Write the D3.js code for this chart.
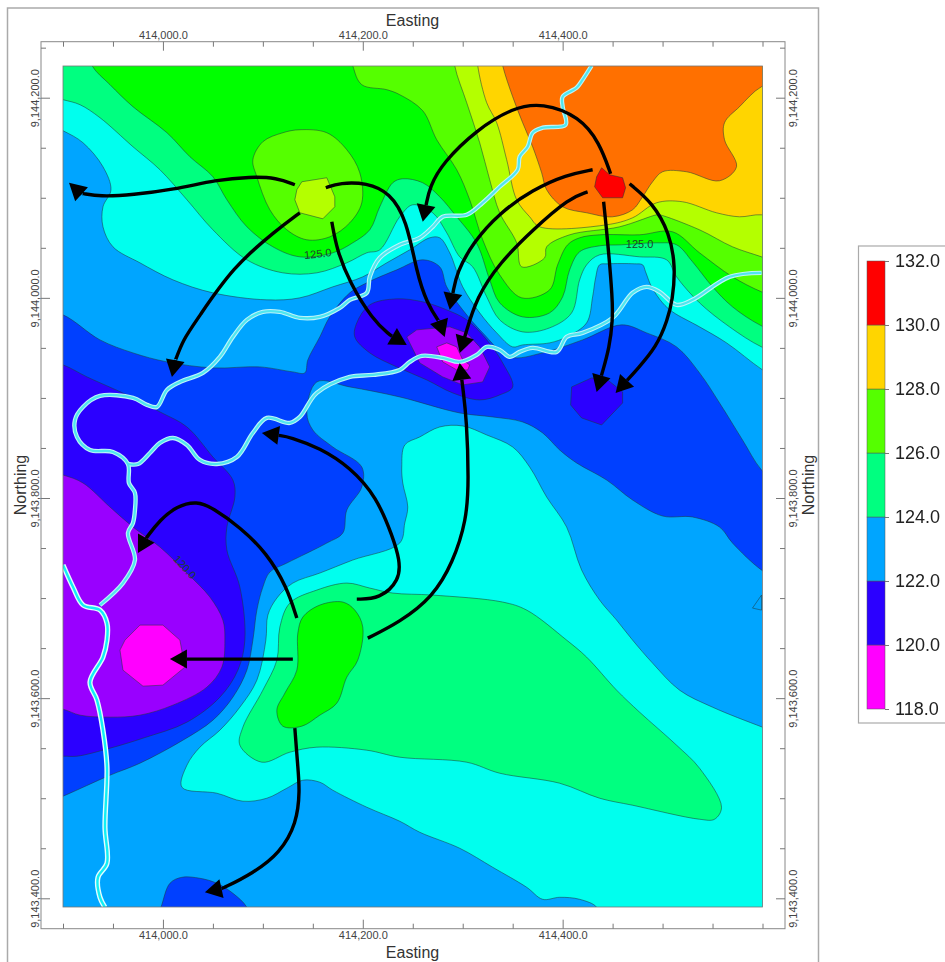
<!DOCTYPE html>
<html>
<head>
<meta charset="utf-8">
<script src="https://cdn.jsdelivr.net/npm/d3@7"></script>
<style>
  html, body { margin: 0; padding: 0; background: #fff; overflow: hidden; }
  svg { display: block; filter: blur(0.45px); }
  text { font-family: "Liberation Sans", Arial, sans-serif; }
</style>
</head>
<body>
<div id="chart"></div>
<script>
// Grid origin, all outlines below are metres east / north of it
const originE = 413900;
const originN = 9143400;

// Elevation bands, one colour per contour interval
const colMagenta = "#ff00ff", colViolet = "#9900ff", colIndigo = "#2b00ff", colBlue = "#0040ff",
      colAzure = "#00a5ff", colCyan = "#00ffee", colSpring = "#00ff80", colGreen = "#00ff00",
      colLime = "#55ff00", colYellowGreen = "#b4ff00", colYellow = "#ffd500", colOrange = "#ff7000",
      colRed = "#ff0000";

// Band outlines
const cyanUpper = [[-30,870],[730,870],[730,510],[700,528],[664,555],[637,571],[610,586],[600,595],[589,611],[583,626],[580,633],[572,634],[545,634],[537,633],[533,620],[530,601],[524,575],[504,561],[487,555],[460,553],[450,551],[434,565],[417,585],[400,611],[387,645],[377,660],[367,660],[347,648],[324,635],[300,621],[270,611],[237,600],[204,598],[150,605],[110,618],[77,635],[50,651],[40,671],[40,691],[48,708],[40,731],[20,755],[0,767],[-30,780]];
const cyanLower = [[342,453],[357,461],[377,471],[400,472],[424,463],[450,451],[467,431],[484,401],[504,371],[519,328],[537,298],[554,278],[570,258],[590,235],[617,208],[650,191],[700,171],[730,160],[730,-30],[534,-20],[534,-9],[517,-1],[497,1],[480,-1],[464,11],[430,31],[397,50],[357,66],[337,77],[304,91],[270,108],[257,116],[240,118],[224,110],[204,100],[180,97],[154,105],[119,111],[124,133],[137,151],[157,168],[177,191],[194,218],[203,258],[205,283],[214,300],[230,315],[257,325],[290,338],[337,355],[342,375],[345,391],[340,415],[339,431]];
const springUpper = [[-30,870],[730,870],[730,540],[699,551],[667,571],[637,595],[614,621],[604,638],[577,641],[537,643],[524,633],[517,618],[509,585],[487,570],[460,566],[437,578],[424,601],[410,631],[397,641],[384,665],[370,685],[350,693],[337,681],[317,648],[304,645],[284,635],[254,625],[220,625],[184,638],[150,668],[124,698],[97,728],[70,751],[37,780],[17,793],[0,798],[-30,805]];
const springLower = [[180,171],[200,208],[214,238],[217,271],[227,295],[254,308],[284,315],[307,310],[330,305],[370,303],[440,296],[464,288],[504,258],[524,241],[554,208],[577,186],[614,153],[637,130],[659,91],[652,79],[637,79],[570,93],[537,100],[497,115],[437,125],[404,136],[337,141],[304,148],[254,151],[227,146],[199,136],[177,153]];
const greenUpper = [[20,860],[730,870],[730,560],[699,572],[670,591],[650,611],[630,636],[614,653],[594,655],[559,653],[537,652],[517,646],[507,628],[500,601],[487,585],[460,581],[437,595],[427,618],[417,648],[410,661],[394,681],[377,701],[360,715],[340,719],[330,715],[317,691],[307,668],[290,655],[270,645],[237,641],[210,651],[184,671],[164,698],[150,721],[127,741],[104,765],[70,791],[47,813],[29,832]];
const greenLower = [[257,293],[280,296],[292,288],[300,271],[295,238],[284,221],[274,195],[257,183],[239,172],[220,172],[214,188],[222,205],[234,228],[235,265],[240,281]];
const limeUpper = [[285,860],[730,870],[730,595],[699,606],[670,621],[637,645],[610,666],[577,663],[537,663],[517,660],[505,653],[495,633],[487,608],[459,600],[437,623],[420,658],[407,698],[394,728],[374,758],[360,787],[337,803],[324,808],[299,813],[290,832]];
const limeBlob = [[237,768],[264,765],[284,748],[297,725],[299,695],[287,675],[267,661],[244,658],[224,668],[207,688],[194,721],[190,738],[200,756],[220,765]];
const yellowGreenUpper = [[390,860],[730,870],[730,630],[699,641],[670,651],[637,668],[597,683],[594,683],[557,671],[507,663],[484,651],[482,640],[459,631],[454,655],[437,685],[427,718],[417,755],[404,795],[392,832]];
const yellowGreenBlob = [[234,708],[239,716],[264,720],[272,701],[272,691],[260,679],[237,685],[232,698]];
const yellowUpper = [[413,860],[730,870],[730,675],[699,683],[677,681],[654,685],[620,696],[594,695],[570,680],[544,673],[477,671],[467,681],[454,698],[444,738],[434,775],[424,795],[415,832]];
const orangeUpper = [[435,860],[730,870],[730,820],[699,811],[677,791],[662,775],[662,758],[674,731],[657,717],[624,726],[600,726],[590,716],[580,701],[570,688],[550,681],[524,685],[500,691],[484,708],[479,725],[470,751],[460,775],[450,801],[440,832]];
const redPeak = [[539,730],[547,723],[560,720],[563,710],[560,700],[540,700],[532,711],[534,721]];
const blueMain = [[-30,590],[0,583],[37,558],[70,545],[104,536],[150,530],[197,531],[230,526],[242,525],[245,538],[257,561],[267,581],[287,605],[304,615],[334,628],[360,638],[377,631],[384,611],[400,588],[420,565],[447,541],[480,545],[520,558],[559,573],[584,565],[614,551],[637,525],[657,495],[680,458],[699,428],[730,400],[730,310],[699,328],[670,355],[657,371],[630,381],[600,382],[570,398],[544,418],[514,435],[497,448],[480,465],[460,476],[430,481],[397,485],[337,501],[287,511],[254,516],[244,485],[250,468],[270,451],[299,431],[299,411],[284,388],[280,365],[264,355],[224,335],[207,326],[200,311],[194,288],[190,258],[184,228],[170,201],[150,178],[120,158],[77,135],[47,123],[0,102],[-30,90]];
const blueSouth = [[90,-30],[98,-9],[107,15],[119,21],[137,20],[154,15],[170,5],[184,-9],[190,-30]];
const indigoWest = [[-30,540],[0,533],[24,521],[64,503],[97,486],[124,471],[150,441],[170,418],[172,401],[164,371],[164,348],[177,311],[182,258],[175,228],[157,201],[124,176],[80,160],[47,150],[14,142],[0,142],[-30,140]];
const indigoCentre = [[294,575],[307,593],[334,599],[360,596],[384,588],[404,578],[424,558],[440,535],[450,511],[437,503],[417,498],[390,505],[364,518],[334,531],[307,545],[292,561]];
const indigoEast = [[509,511],[529,520],[545,518],[560,506],[560,495],[539,473],[519,480],[508,493]];
const violetWest = [[-30,430],[0,423],[20,415],[47,391],[70,371],[97,351],[124,325],[147,301],[160,278],[162,258],[159,231],[144,211],[110,193],[77,183],[47,181],[17,183],[0,189],[-30,195]];
const violetCentre = [[344,561],[354,568],[387,571],[404,565],[417,551],[427,531],[420,516],[400,513],[380,521],[357,535]];
const magentaWest = [[57,248],[62,258],[77,273],[100,273],[117,258],[122,231],[100,213],[80,212],[60,228]];
const magentaCentre = [[374,551],[384,555],[394,551],[400,538],[407,533],[405,528],[394,528],[380,536]];
const azureNotch = [[699,303],[690,290],[699,288]];

// Streams
const riverNorth = [[529,832],[520,818],[514,810],[500,801],[500,791],[503,773],[480,770],[470,765],[465,751],[457,741],[455,728],[437,711],[420,695],[404,683],[380,681],[370,671],[357,660],[337,653],[317,640],[307,621],[304,605],[287,598],[277,590],[257,581],[237,580],[217,586],[200,586],[184,578],[170,561],[157,541],[140,525],[117,516],[104,508],[94,491],[84,493],[70,500],[37,502],[20,491],[12,478],[14,461],[27,448],[50,446],[65,434],[66,415],[72,405],[72,388],[70,375],[65,365],[72,338],[60,315],[37,293]];
const riverWest = [[0,333],[10,311],[20,293],[37,288],[44,275],[44,258],[40,241],[27,216],[34,198],[40,168],[44,131],[42,71],[44,35],[35,21],[37,1],[42,-9]];
const riverEast = [[65,434],[75,434],[87,445],[97,455],[110,460],[124,453],[137,438],[154,434],[174,441],[190,465],[204,480],[227,475],[237,481],[254,505],[287,521],[310,523],[337,528],[347,536],[359,542],[380,540],[397,536],[414,543],[424,551],[437,548],[447,541],[457,546],[470,550],[494,546],[504,561],[520,565],[550,580],[570,605],[584,611],[597,606],[614,593],[630,598],[667,621],[699,625]];

// Flow arrows, last point is the tip
const arrowA = [[232,713],[214,720],[187,721],[154,718],[110,708],[70,703],[37,701],[17,705],[6,715]];
const arrowB = [[263,710],[277,715],[304,715],[327,705],[344,678],[354,625],[364,595],[377,575],[382,561]];
const arrowC = [[269,676],[274,648],[287,615],[310,578],[327,563],[344,553]];
const arrowD = [[237,685],[214,668],[170,631],[134,578],[120,558],[112,536],[109,521]];
const arrowE = [[548,724],[537,755],[517,781],[480,795],[450,790],[414,768],[380,735],[367,711],[360,676]];
const arrowF = [[530,728],[504,723],[470,708],[437,685],[410,655],[394,625],[387,588]];
const arrowG = [[525,706],[507,700],[470,668],[437,635],[414,601],[402,561],[397,545]];
const arrowH = [[541,696],[545,658],[550,598],[550,578],[547,551],[539,523],[534,506]];
const arrowI = [[567,714],[590,695],[607,665],[613,631],[610,598],[605,578],[594,551],[574,528],[553,505]];
const arrowJ = [[305,260],[337,276],[370,301],[390,335],[404,378],[406,418],[404,478],[400,511],[397,535]];
const arrowK = [[294,299],[317,299],[337,318],[337,338],[330,361],[314,401],[287,431],[257,450],[227,461],[199,465]];
const arrowL = [[234,280],[224,311],[204,345],[177,371],[150,390],[134,397],[114,392],[97,378],[84,361],[75,345]];
const arrowM = [[230,239],[167,239],[107,239]];
const arrowN = [[232,170],[235,131],[237,108],[234,75],[217,45],[190,25],[160,10],[142,6]];

// Ticks and legend
const eastTicks = [414000, 414200, 414400];
const eastMinor = [413900, 413950, 414050, 414100, 414150, 414250, 414300, 414350, 414450, 414500, 414550, 414600];
const northTicks = [9143400, 9143600, 9143800, 9144000, 9144200];
const northMinor = [9143450, 9143500, 9143550, 9143650, 9143700, 9143750, 9143850, 9143900, 9143950, 9144050, 9144100, 9144150, 9144250];
const legendValues = [118, 120, 122, 124, 126, 128, 130, 132];
const legendColours = [colMagenta, colIndigo, colAzure, colSpring, colLime, colYellow, colRed];

// Contour labels: easting, northing, rotation
const contourLabels = [
  {text: "125.0", e: 255, n: 644, rot: -6},
  {text: "125.0", e: 577, n: 654, rot: 0},
  {text: "120.0", e: 122, n: 331, rot: 48}
];

const width = 945, height = 962;
const svg = d3.select("#chart").append("svg").attr("width", width).attr("height", height);

const x = d3.scaleLinear().domain([413900, 414600]).range([63, 762.5]);
const y = d3.scaleLinear().domain([9143400, 9144200]).range([898.3, 97.7]);
const plotTop = 66, plotBottom = 907;
const boxLeft = 41, boxRight = 785, boxTop = 41.7, boxBottom = 928.7;

// Outer frame and axis box
svg.append("rect").attr("x", 7.5).attr("y", 8).attr("width", 811).attr("height", 960)
  .attr("fill", "#fff").attr("stroke", "#aaa").attr("stroke-width", 1.5);
svg.append("rect").attr("x", boxLeft).attr("y", boxTop).attr("width", boxRight - boxLeft).attr("height", boxBottom - boxTop)
  .attr("fill", "none").attr("stroke", "#888").attr("stroke-width", 1);

svg.append("clipPath").attr("id", "plot-clip").append("rect")
  .attr("x", x(413900)).attr("y", plotTop).attr("width", x(414600) - x(413900)).attr("height", plotBottom - plotTop);

const px = p => [x(originE + p[0]), y(originN + p[1])];
const outline = d3.line().curve(d3.curveCatmullRomClosed.alpha(0.5));
const facets = d3.line().curve(d3.curveLinearClosed);
const open = d3.line().curve(d3.curveCatmullRom.alpha(0.5));
const smooth = d3.line().curve(d3.curveBasis);

const plot = svg.append("g").attr("clip-path", "url(#plot-clip)");

// base band
plot.append("rect")
  .attr("x", x(413900)).attr("y", plotTop).attr("width", x(414600) - x(413900)).attr("height", plotBottom - plotTop)
  .attr("fill", colAzure);

// low ground first, then the high ground on top of it
const layers = [
  [blueMain, colBlue], [blueSouth, colBlue],
  [indigoWest, colIndigo], [indigoCentre, colIndigo], [indigoEast, colIndigo, true],
  [violetWest, colViolet], [violetCentre, colViolet, true],
  [magentaWest, colMagenta, true], [magentaCentre, colMagenta, true],
  [azureNotch, colAzure, true],
  [cyanUpper, colCyan], [cyanLower, colCyan],
  [springUpper, colSpring], [springLower, colSpring],
  [greenUpper, colGreen], [greenLower, colGreen],
  [limeUpper, colLime], [limeBlob, colLime],
  [yellowGreenUpper, colYellowGreen], [yellowGreenBlob, colYellowGreen, true],
  [yellowUpper, colYellow], [orangeUpper, colOrange], [redPeak, colRed, true]
];

plot.selectAll("path.band").data(layers).join("path")
  .attr("class", "band")
  .attr("d", d => (d[2] ? facets : outline)(d[0].map(px)))
  .attr("fill", d => d[1])
  .attr("stroke", "#1c3a3a")
  .attr("stroke-opacity", 0.75)
  .attr("stroke-width", 0.7);

contourLabels.forEach(function(l) {
  const p = px([l.e, l.n]);
  plot.append("text")
    .attr("transform", "translate(" + p[0] + "," + p[1] + ") rotate(" + l.rot + ")")
    .attr("text-anchor", "middle").attr("dy", "0.35em")
    .attr("font-size", 11).attr("fill", "#1f3f2f")
    .text(l.text);
});

// streams, the west one reads white edged with a cyan core
const streams = [
  [riverNorth, "#bdf4f9", "#4fe6ef", 4.4, 2.2],
  [riverEast, "#bdf4f9", "#4fe6ef", 4.4, 2.2],
  [riverWest, "#e4fdfe", "#12f0f5", 5.2, 2.4]
];
streams.forEach(function(r) {
  plot.append("path").attr("d", open(r[0].map(px))).attr("fill", "none")
    .attr("stroke", r[1]).attr("stroke-width", r[3]).attr("stroke-linejoin", "round");
});
streams.forEach(function(r) {
  plot.append("path").attr("d", open(r[0].map(px))).attr("fill", "none")
    .attr("stroke", r[2]).attr("stroke-width", r[4]).attr("stroke-linejoin", "round");
});

// arrows
const arrows = [arrowA, arrowB, arrowC, arrowD, arrowE, arrowF, arrowG, arrowH, arrowI, arrowJ, arrowK, arrowL, arrowM, arrowN];
arrows.forEach(function(a) {
  const pts = a.map(px);
  const tip = pts[pts.length - 1], prev = pts[pts.length - 2];
  const len = Math.hypot(tip[0] - prev[0], tip[1] - prev[1]);
  const ux = (tip[0] - prev[0]) / len, uy = (tip[1] - prev[1]) / len;
  const bx = tip[0] - ux * 17, by = tip[1] - uy * 17;
  svg.append("path").attr("d", smooth(pts.slice(0, -1).concat([[bx, by]])))
    .attr("fill", "none").attr("stroke", "#000").attr("stroke-width", 3.4);
  svg.append("polygon")
    .attr("points", [tip, [bx - uy * 9.5, by + ux * 9.5], [bx + uy * 9.5, by - ux * 9.5]].join(" "))
    .attr("fill", "#000");
});

// plot border
svg.append("rect").attr("x", x(413900)).attr("y", plotTop).attr("width", x(414600) - x(413900)).attr("height", plotBottom - plotTop)
  .attr("fill", "none").attr("stroke", "#777").attr("stroke-width", 0.8);

// axes, ticks point into the box from its edges
const fmt = d3.format(",.1f");
function styleAxis(g) {
  g.select(".domain").remove();
  g.selectAll("line").attr("stroke", "#777");
  g.selectAll("text").attr("fill", "#444").attr("font-size", 11).attr("font-family", "Liberation Sans, Arial, sans-serif");
}
function rotateLabels(g, dx) {
  g.selectAll("text")
    .attr("x", null).attr("y", null).attr("dy", null)
    .attr("text-anchor", "middle")
    .attr("transform", "translate(" + dx + ",0) rotate(-90)");
}

svg.append("g").attr("transform", "translate(0," + boxTop + ")")
  .call(d3.axisTop(x).tickValues(eastTicks).tickFormat(fmt).tickSizeInner(-9).tickSizeOuter(0).tickPadding(3)).call(styleAxis);
svg.append("g").attr("transform", "translate(0," + boxTop + ")")
  .call(d3.axisTop(x).tickValues(eastMinor).tickFormat("").tickSizeInner(-5).tickSizeOuter(0)).call(styleAxis);
svg.append("g").attr("transform", "translate(0," + boxBottom + ")")
  .call(d3.axisBottom(x).tickValues(eastTicks).tickFormat(fmt).tickSizeInner(-9).tickSizeOuter(0).tickPadding(3)).call(styleAxis);
svg.append("g").attr("transform", "translate(0," + boxBottom + ")")
  .call(d3.axisBottom(x).tickValues(eastMinor).tickFormat("").tickSizeInner(-5).tickSizeOuter(0)).call(styleAxis);
svg.append("g").attr("transform", "translate(" + boxLeft + ",0)")
  .call(d3.axisLeft(y).tickValues(northTicks).tickFormat(fmt).tickSizeInner(-9).tickSizeOuter(0)).call(styleAxis).call(rotateLabels, -2);
svg.append("g").attr("transform", "translate(" + boxLeft + ",0)")
  .call(d3.axisLeft(y).tickValues(northMinor).tickFormat("").tickSizeInner(-5).tickSizeOuter(0)).call(styleAxis);
svg.append("g").attr("transform", "translate(" + boxRight + ",0)")
  .call(d3.axisRight(y).tickValues(northTicks).tickFormat(fmt).tickSizeInner(-9).tickSizeOuter(0)).call(styleAxis).call(rotateLabels, 12);
svg.append("g").attr("transform", "translate(" + boxRight + ",0)")
  .call(d3.axisRight(y).tickValues(northMinor).tickFormat("").tickSizeInner(-5).tickSizeOuter(0)).call(styleAxis);

// axis titles
const titleEast = [[412.5, 20.5], [412.5, 952]];
svg.selectAll("text.title-e").data(titleEast).join("text")
  .attr("class", "title-e")
  .attr("x", d => d[0]).attr("y", d => d[1]).attr("dy", "0.35em")
  .attr("text-anchor", "middle").attr("font-size", 16).attr("fill", "#333")
  .text("Easting");
const titleNorth = [[20, 485], [808, 485]];
svg.selectAll("text.title-n").data(titleNorth).join("text")
  .attr("class", "title-n")
  .attr("transform", d => "translate(" + d[0] + "," + d[1] + ") rotate(-90)")
  .attr("dy", "0.35em")
  .attr("text-anchor", "middle").attr("font-size", 16).attr("fill", "#333")
  .text("Northing");

// legend
const legendY = d3.scaleLinear().domain([118, 132]).range([709, 261]);
const legendX = 867, legendW = 18;
svg.append("rect").attr("x", 858.5).attr("y", 246).attr("width", 100).attr("height", 477)
  .attr("fill", "#fff").attr("stroke", "#aaa").attr("stroke-width", 1.2);
svg.selectAll("rect.legend-cell").data(legendColours).join("rect")
  .attr("class", "legend-cell")
  .attr("x", legendX)
  .attr("y", (d, i) => legendY(legendValues[i + 1]))
  .attr("width", legendW)
  .attr("height", (d, i) => legendY(legendValues[i]) - legendY(legendValues[i + 1]))
  .attr("fill", d => d)
  .attr("stroke", "#555").attr("stroke-width", 0.5);
const legendAxis = svg.append("g").attr("transform", "translate(" + (legendX + legendW) + ",0)")
  .call(d3.axisRight(legendY).tickValues(legendValues).tickFormat(d3.format(".1f")).tickSizeInner(4).tickSizeOuter(0).tickPadding(6));
legendAxis.select(".domain").remove();
legendAxis.selectAll("line").attr("stroke", "#777");
legendAxis.selectAll("text").attr("font-size", 18).attr("fill", "#222").attr("font-family", "Liberation Sans, Arial, sans-serif");
</script>
</body>
</html>
